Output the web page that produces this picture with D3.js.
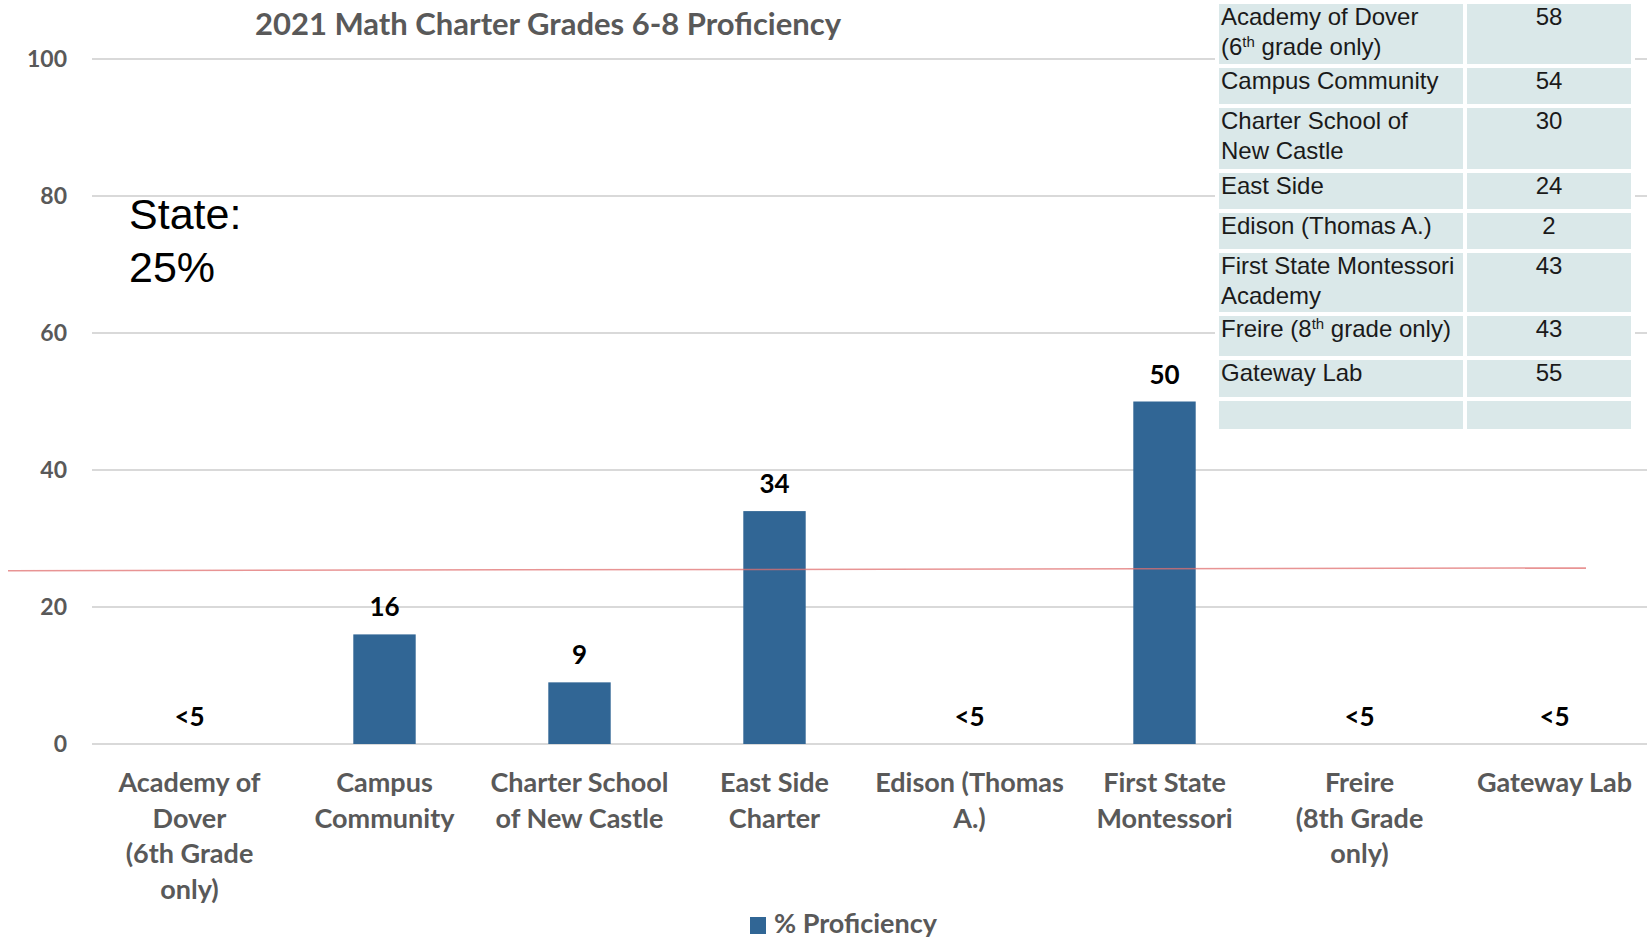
<!DOCTYPE html>
<html>
<head>
<meta charset="utf-8">
<script src="https://cdn.jsdelivr.net/npm/d3@7"></script>
<style>
  html, body { margin: 0; padding: 0; background: #fff; }
  svg { display: block; }
</style>
</head>
<body>
<div class="chart"></div>
<script>
// chart data
const categories = ["Academy of Dover", "Campus Community", "Charter School of New Castle",
  "East Side Charter", "Edison (Thomas A.)", "First State Montessori", "Freire", "Gateway Lab"];
const catLines = [
  ["Academy of", "Dover", "(6th Grade", "only)"],
  ["Campus", "Community"],
  ["Charter School", "of New Castle"],
  ["East Side", "Charter"],
  ["Edison (Thomas", "A.)"],
  ["First State", "Montessori"],
  ["Freire", "(8th Grade", "only)"],
  ["Gateway Lab"]
];
const proficiency = [0, 16, 9, 34, 0, 50, 0, 0];
const valueLabels = ["<5", "16", "9", "34", "<5", "50", "<5", "<5"];
const yTicks = [0, 20, 40, 60, 80, 100];
const stateValue = [25.3, 25.7]; // red reference line, drawn slightly tilted as in the source
const seriesName = "% Proficiency";
const title = "2021 Math Charter Grades 6-8 Proficiency";

// side table
const tableNames = [
  ["Academy of Dover", "(6{th} grade only)"],
  ["Campus Community"],
  ["Charter School of", "New Castle"],
  ["East Side"],
  ["Edison (Thomas A.)"],
  ["First State Montessori", "Academy"],
  ["Freire (8{th} grade only)"],
  ["Gateway Lab"],
  [""]
];
const tableValues = ["58", "54", "30", "24", "2", "43", "43", "55", ""];

const width = 1647;
const height = 938;
const calibri = "Lato, 'Open Sans', sans-serif";
const arial = "'Liberation Sans', Arial, sans-serif";
const grey = "#595959";

const svg = d3.select(".chart").append("svg")
  .attr("width", width)
  .attr("height", height);

const x = d3.scaleBand()
  .domain(categories)
  .range([92, 1652])
  .paddingInner(0.68)
  .paddingOuter(0.34);

const y = d3.scaleLinear()
  .domain([0, 100])
  .range([744, 59]);

// gridlines
svg.append("g")
  .selectAll("line")
  .data(yTicks)
  .enter()
  .append("line")
  .attr("x1", 92)
  .attr("x2", width)
  .attr("y1", d => y(d))
  .attr("y2", d => y(d))
  .attr("stroke", "#d9d9d9")
  .attr("stroke-width", 2);

// y labels
svg.append("g")
  .selectAll("text")
  .data(yTicks)
  .enter()
  .append("text")
  .attr("x", 67)
  .attr("y", d => y(d))
  .attr("dy", "0.36em")
  .attr("text-anchor", "end")
  .style("font-family", calibri)
  .style("font-weight", "bold")
  .style("font-size", "23px")
  .attr("fill", grey)
  .text(d => d);

// title
svg.append("text")
  .attr("x", 548)
  .attr("y", 35)
  .attr("text-anchor", "middle")
  .style("font-family", calibri)
  .style("font-weight", "bold")
  .style("font-size", "31px")
  .attr("fill", grey)
  .text(title);

// bars
const data = categories.map((c, i) => ({ cat: c, value: proficiency[i], label: valueLabels[i], lines: catLines[i] }));

svg.append("g")
  .selectAll("rect")
  .data(data)
  .enter()
  .append("rect")
  .attr("x", d => x(d.cat))
  .attr("y", d => y(d.value))
  .attr("width", x.bandwidth())
  .attr("height", d => y(0) - y(d.value))
  .attr("fill", "#316695");

// value labels
svg.append("g")
  .selectAll("text")
  .data(data)
  .enter()
  .append("text")
  .attr("x", d => x(d.cat) + x.bandwidth() / 2)
  .attr("y", d => y(d.value) - 18)
  .attr("text-anchor", "middle")
  .style("font-family", calibri)
  .style("font-weight", "bold")
  .style("font-size", "26px")
  .attr("fill", "#000")
  .text(d => d.label);

// category labels
const catG = svg.append("g")
  .selectAll("text")
  .data(data)
  .enter()
  .append("text")
  .attr("text-anchor", "middle")
  .style("font-family", calibri)
  .style("font-weight", "bold")
  .style("font-size", "27px")
  .attr("fill", grey);

catG.selectAll("tspan")
  .data(d => d.lines.map(l => ({ l, cx: x(d.cat) + x.bandwidth() / 2 })))
  .enter()
  .append("tspan")
  .attr("x", d => d.cx)
  .attr("y", (d, i) => 792 + i * 35.7)
  .text(d => d.l);

// state line
svg.append("line")
  .attr("x1", 8)
  .attr("x2", 1586)
  .attr("y1", y(stateValue[0]))
  .attr("y2", y(stateValue[1]))
  .attr("stroke", "#e07070")
  .attr("stroke-opacity", 0.75)
  .attr("stroke-width", 1.5);

// state annotation
const stateText = svg.append("text")
  .style("font-family", arial)
  .style("font-size", "43px")
  .attr("fill", "#000");
stateText.append("tspan").attr("x", 129).attr("y", 229).text("State:");
stateText.append("tspan").attr("x", 129).attr("y", 281.5).text("25%");

// legend
svg.append("rect")
  .attr("x", 750)
  .attr("y", 917)
  .attr("width", 16)
  .attr("height", 17)
  .attr("fill", "#316695");

svg.append("text")
  .attr("x", 774)
  .attr("y", 933)
  .style("font-family", calibri)
  .style("font-weight", "bold")
  .style("font-size", "27px")
  .attr("fill", grey)
  .text(seriesName);

// table
const rowH = [60, 36, 61, 36, 36, 59, 40, 37, 28];
const tableX = [1219, 1467];
const colW = [244, 164];
const tableG = svg.append("g");

tableG.append("rect")
  .attr("x", 1215)
  .attr("y", 0)
  .attr("width", 420)
  .attr("height", 432)
  .attr("fill", "#fff");

let rowTop = 4;
tableNames.forEach((lines, i) => {
  const row = tableG.append("g").attr("transform", `translate(0,${rowTop})`);
  row.append("rect")
    .attr("x", tableX[0]).attr("y", 0)
    .attr("width", colW[0]).attr("height", rowH[i])
    .attr("fill", "#dae8e9");
  row.append("rect")
    .attr("x", tableX[1]).attr("y", 0)
    .attr("width", colW[1]).attr("height", rowH[i])
    .attr("fill", "#dae8e9");

  lines.forEach((line, j) => {
    const t = row.append("text")
      .attr("x", tableX[0] + 2)
      .attr("y", 21 + j * 30)
      .style("font-family", arial)
      .style("font-size", "24px")
      .attr("fill", "#1a1a1a");
    let shift = 0;
    line.split(/(\{[^}]*\})/).forEach(part => {
      if (part.startsWith("{")) {
        t.append("tspan")
          .attr("dy", -8)
          .style("font-size", "15px")
          .text(part.slice(1, -1));
        shift = 8;
      } else if (part) {
        const sp = t.append("tspan").text(part);
        if (shift) { sp.attr("dy", shift); shift = 0; }
      }
    });
  });

  row.append("text")
    .attr("x", tableX[1] + colW[1] / 2)
    .attr("y", 21)
    .attr("text-anchor", "middle")
    .style("font-family", arial)
    .style("font-size", "24px")
    .attr("fill", "#1a1a1a")
    .text(tableValues[i]);

  rowTop += rowH[i] + 4;
});
</script>
</body>
</html>
